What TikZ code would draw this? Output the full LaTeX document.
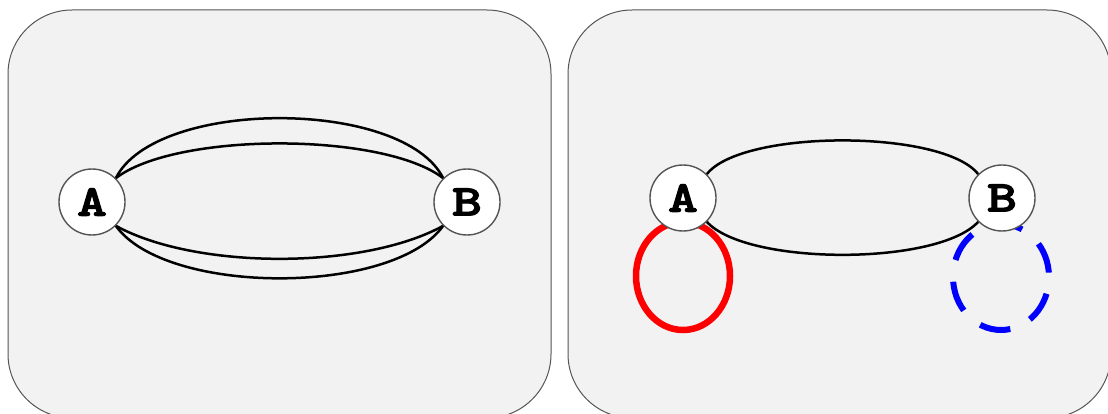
\documentclass[tikz,border=0pt]{standalone}
\usepackage{fontspec}
\newfontfamily\labelfont{lmmonolt10-bold}[Extension=.otf, FakeBold=2.5, FakeStretch=1.3]
\definecolor{panelfill}{HTML}{F2F2F2}
\definecolor{framegray}{HTML}{555555}
\pgfdeclarelayer{panels}
\pgfdeclarelayer{edges}
\pgfsetlayers{panels,edges,main}
\begin{document}
\begin{tikzpicture}[x=1pt,y=-1pt,
  panel/.style={draw=framegray, line width=1pt, fill=panelfill, rounded corners=64pt},
  vertex/.style={circle, draw=framegray, line width=1.4pt, fill=white,
    minimum size=66pt, inner sep=0pt,
    font=\labelfont\fontsize{44}{44}\selectfont},
  link/.style={line width=2.5pt},
  redloop/.style={draw=red, line width=6.5pt},
  blueloop/.style={draw=blue, line width=6pt, dash pattern=on 31pt off 22pt, dash phase=36pt}]
\useasboundingbox (0,0) rectangle (1108,414);

% two panels
\begin{pgfonlayer}{panels}
  \draw[panel] (8,10) rectangle (551,418);
  \draw[panel] (568,10) rectangle (1111,418);
\end{pgfonlayer}

% vertices
\node[vertex] (la) at (92,202) {A};
\node[vertex] (lb) at (467,202) {B};
\node[vertex] (ra) at (683,198) {A};
\node[vertex] (rb) at (1002,198) {B};

\begin{pgfonlayer}{edges}
  % left: four parallel edges between A and B
  \draw[link] (la.45) .. controls +(40,-80) and +(-40,-80) .. (lb.135);
  \draw[link] (la.45) .. controls +(60,-46.3) and +(-60,-46.3) .. (lb.135);
  \draw[link] (la.-45) .. controls +(80,44) and +(-80,44) .. (lb.-135);
  \draw[link] (la.-45) .. controls +(50,70) and +(-50,70) .. (lb.-135);

  % right: two edges plus a self-loop on each vertex
  \draw[link] (ra.45) .. controls +(35,-45) and +(-35,-45) .. (rb.135);
  \draw[link] (ra.-45) .. controls +(40,44) and +(-40,44) .. (rb.-135);

  \path (ra.center) ++(0,78) coordinate (raloop);
  \path (rb.center) ++(-1,79) coordinate (rbloop);
  \draw[redloop] (raloop) ellipse [x radius=47, y radius=54];
  \draw[blueloop] (rbloop) ellipse [x radius=48, y radius=53];
\end{pgfonlayer}
\end{tikzpicture}
\end{document}
